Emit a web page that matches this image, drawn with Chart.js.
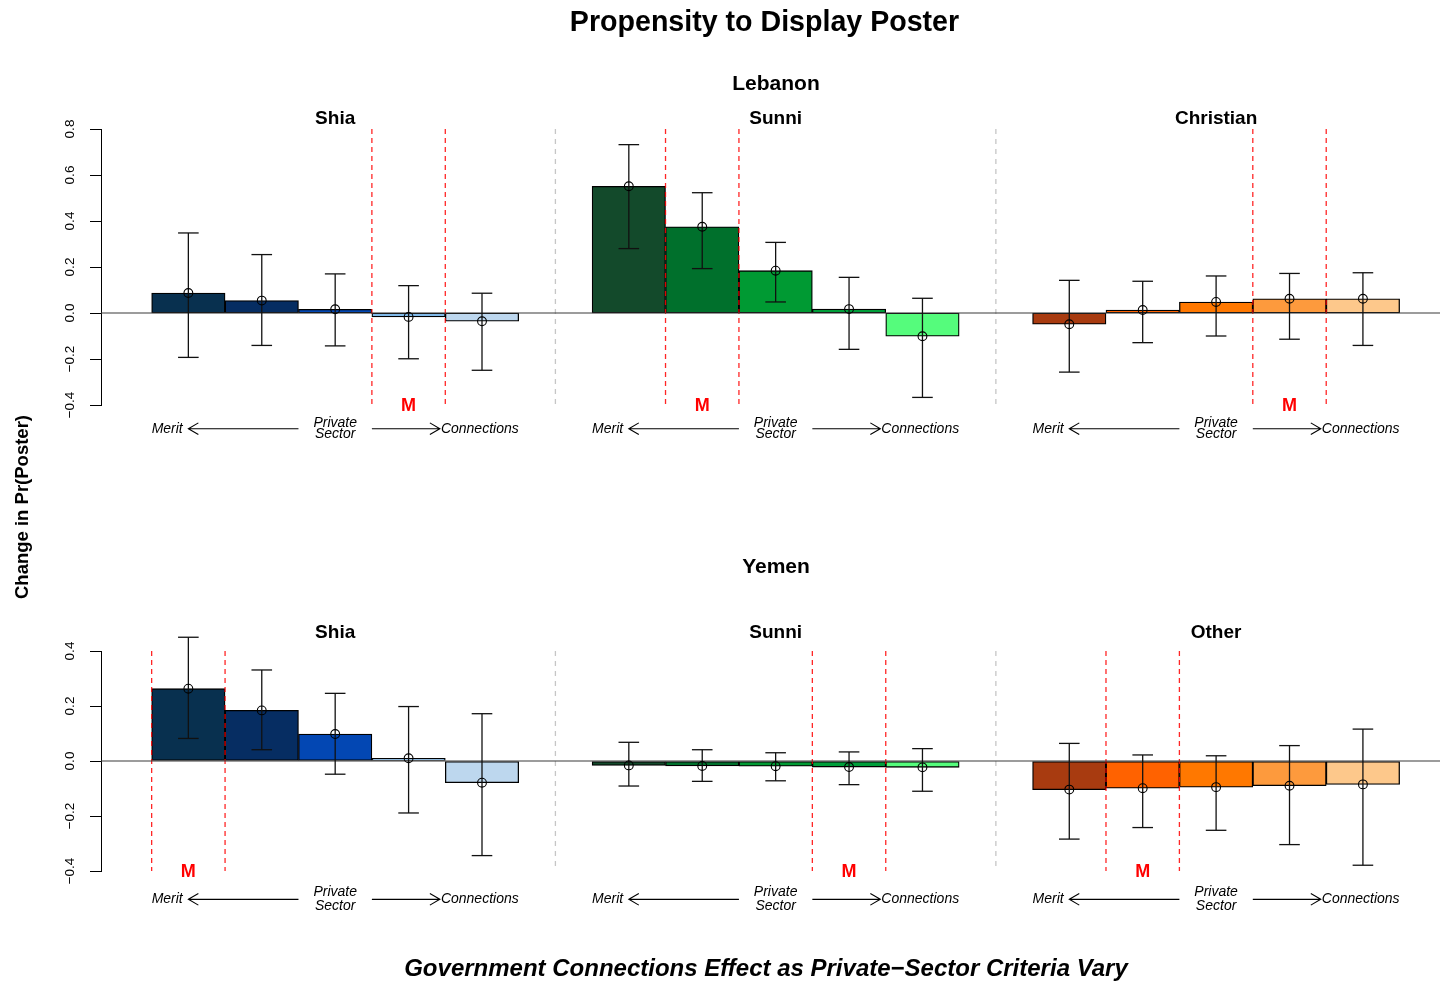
<!DOCTYPE html>
<html>
<head>
<meta charset="utf-8">
<title>Propensity to Display Poster</title>
<script src="https://cdn.jsdelivr.net/npm/chart.js@4.4.0/dist/chart.umd.min.js"></script>
<style>
  html, body { margin: 0; padding: 0; background: #fff; }
  #wrap { position: relative; width: 1440px; height: 985px; }
  #wrap canvas { position: absolute; left: 0; top: 0; }
</style>
</head>
<body>
<div id="wrap">
  <canvas id="lebanon" width="1440" height="985"></canvas>
  <canvas id="yemen" width="1440" height="985"></canvas>
</div>
<script>
// private-sector criteria levels, merit -> connections
const levels = [1, 2, 3, 4, 5];

const lebanonGroups = ["Shia", "Sunni", "Christian"];
const yemenGroups = ["Shia", "Sunni", "Other"];

// which level is marked "M" in each group (index into levels)
const lebanonMarked = [3, 1, 3];
const yemenMarked = [0, 3, 1];

// Lebanon: estimate, lower and upper bound
const lebShiaEst = [0.087, 0.054, 0.016, -0.017, -0.036];
const lebShiaLo = [-0.193, -0.141, -0.143, -0.199, -0.249];
const lebShiaHi = [0.348, 0.254, 0.170, 0.119, 0.086];

const lebSunniEst = [0.551, 0.375, 0.184, 0.017, -0.101];
const lebSunniLo = [0.280, 0.193, 0.048, -0.158, -0.367];
const lebSunniHi = [0.732, 0.523, 0.307, 0.155, 0.064];

const lebChristianEst = [-0.049, 0.013, 0.048, 0.062, 0.062];
const lebChristianLo = [-0.257, -0.129, -0.100, -0.114, -0.141];
const lebChristianHi = [0.142, 0.138, 0.161, 0.172, 0.175];

// Yemen
const yemShiaEst = [0.263, 0.184, 0.098, 0.010, -0.079];
const yemShiaLo = [0.082, 0.041, -0.048, -0.189, -0.344];
const yemShiaHi = [0.450, 0.331, 0.246, 0.198, 0.172];

const yemSunniEst = [-0.016, -0.018, -0.019, -0.022, -0.023];
const yemSunniLo = [-0.091, -0.074, -0.072, -0.086, -0.110];
const yemSunniHi = [0.068, 0.041, 0.030, 0.033, 0.045];

const yemOtherEst = [-0.104, -0.099, -0.095, -0.090, -0.085];
const yemOtherLo = [-0.284, -0.242, -0.252, -0.304, -0.379];
const yemOtherHi = [0.064, 0.022, 0.019, 0.056, 0.116];

// bar colours per group
const shiaColors = ["#08304f", "#062d62", "#0347b3", "#80b9e9", "#bdd7ee"];
const sunniColors = ["#134a2b", "#00702c", "#009a33", "#009e3a", "#55fc7c"];
const orangeColors = ["#a83b10", "#ff6200", "#ff7800", "#fd9a3d", "#fdc88b"];

const FONT = '"Liberation Sans", Arial, Helvetica, sans-serif';
const groupStep = levels.length + 1; // one empty slot between groups

function slot(g, i) {
  return g * groupStep + i;
}

function minus(s) {
  return s.replace("-", "\u2212");
}

// plugin for everything R added on top of barplot()
function panelDecor(p) {
  return {
    id: "decor",
    afterDatasetDraw(chart, args) {
      if (args.meta.type !== "bar") return;
      const { ctx, chartArea: a, scales: { x, y } } = chart;
      const seg = (x0, y0, x1, y1) => {
        ctx.beginPath();
        ctx.moveTo(x0, y0);
        ctx.lineTo(x1, y1);
        ctx.stroke();
      };
      ctx.save();
      // grey separators between groups
      ctx.lineWidth = 1.3;
      ctx.strokeStyle = "#c6c6c6";
      ctx.setLineDash([5, 5]);
      for (let g = 1; g < p.groups.length; g++) {
        const px = x.getPixelForValue(slot(g, 0) - 1);
        seg(px, a.top, px, a.bottom);
      }
      // red dashed lines round the marked level
      ctx.strokeStyle = "rgba(255,0,0,0.85)";
      ctx.setLineDash([5, 4]);
      p.marked.forEach((m, g) => {
        [m - 0.5, m + 0.5].forEach((v) => {
          const px = x.getPixelForValue(slot(g, v));
          seg(px, a.top, px, a.bottom);
        });
      });
      ctx.setLineDash([]);
      // zero line
      ctx.strokeStyle = "#3a3a3a";
      ctx.lineWidth = 1.2;
      const y0 = y.getPixelForValue(0);
      seg(a.left, y0, a.right, y0);
      // error bars
      ctx.strokeStyle = "#111";
      ctx.lineWidth = 1.3;
      p.lo.forEach((arr, g) => {
        arr.forEach((lo, i) => {
          const px = x.getPixelForValue(slot(g, i));
          const yl = y.getPixelForValue(lo);
          const yh = y.getPixelForValue(p.hi[g][i]);
          seg(px, yl, px, yh);
          seg(px - 10.3, yl, px + 10.3, yl);
          seg(px - 10.3, yh, px + 10.3, yh);
        });
      });
      ctx.restore();
    },
    afterDraw(chart) {
      const { ctx, chartArea: a, scales: { x, y } } = chart;
      ctx.save();
      ctx.fillStyle = "#000";
      ctx.textBaseline = "middle";

      // y tick labels, rotated like R's las = 0
      ctx.font = "13.5px " + FONT;
      ctx.textAlign = "center";
      y.ticks.forEach((t) => {
        ctx.save();
        ctx.translate(70, y.getPixelForValue(t.value));
        ctx.rotate(-Math.PI / 2);
        ctx.fillText(minus(t.value.toFixed(1)), 0, 0);
        ctx.restore();
      });

      // panel and group titles
      ctx.font = "bold 21px " + FONT;
      ctx.fillText(p.name, 776, p.nameY + 1.5);
      ctx.font = "bold 19px " + FONT;
      p.groups.forEach((name, g) => {
        ctx.fillText(name, x.getPixelForValue(slot(g, 2)), a.top + p.groupOffset + 1.5);
      });

      p.groups.forEach((name, g) => {
        // M marker
        ctx.fillStyle = "#ff0000";
        ctx.font = "bold 18px " + FONT;
        ctx.textAlign = "center";
        ctx.fillText("M", x.getPixelForValue(slot(g, p.marked[g])), a.bottom + 1.5);

        // Merit <-- Private Sector --> Connections
        ctx.fillStyle = "#000";
        ctx.strokeStyle = "#000";
        ctx.lineWidth = 1.1;
        ctx.font = "italic 14px " + FONT;
        const ya = y.getPixelForValue(-0.503);
        ctx.textAlign = "left";
        ctx.fillText("Merit", x.getPixelForValue(slot(g, -0.5)), ya);
        ctx.textAlign = "right";
        const connRight = x.getPixelForValue(slot(g, 4.5));
        ctx.fillText("Connections", connRight, ya);
        const connLeft = connRight - ctx.measureText("Connections").width - 1;
        ctx.textAlign = "center";
        const mid = x.getPixelForValue(slot(g, 2));
        ctx.fillText("Private", mid, y.getPixelForValue(-0.478));
        ctx.fillText("Sector", mid, y.getPixelForValue(-0.526));

        const arrow = (x0, x1) => {
          const d = x1 > x0 ? -1 : 1;
          ctx.beginPath();
          ctx.moveTo(x0, ya);
          ctx.lineTo(x1, ya);
          ctx.moveTo(x1 + d * 10, ya - 5.8);
          ctx.lineTo(x1, ya);
          ctx.lineTo(x1 + d * 10, ya + 5.8);
          ctx.stroke();
        };
        arrow(x.getPixelForValue(slot(g, 1.5)), x.getPixelForValue(slot(g, 0)));
        arrow(x.getPixelForValue(slot(g, 2.5)), connLeft);
      });

      // figure-level text
      ctx.fillStyle = "#000";
      ctx.textAlign = "center";
      if (p.showTitle) {
        ctx.font = "bold 28.6px " + FONT;
        ctx.fillText("Propensity to Display Poster", 764.5, 23.5);
        ctx.save();
        ctx.translate(23, 507);
        ctx.rotate(-Math.PI / 2);
        ctx.font = "bold 18.5px " + FONT;
        ctx.fillText("Change in Pr(Poster)", 0, 0);
        ctx.restore();
      }
      if (p.showCaption) {
        ctx.font = "italic bold 24px " + FONT;
        ctx.fillText("Government Connections Effect as Private\u2212Sector Criteria Vary", 766, 969);
      }
      ctx.restore();
    }
  };
}

function buildChart(id, p) {
  const bars = [];
  const colors = [];
  const points = [];
  p.est.forEach((arr, g) => {
    arr.forEach((v, i) => {
      bars.push({ x: slot(g, i), y: v });
      points.push({ x: slot(g, i), y: v });
      colors.push(p.colors[g][i]);
    });
  });

  return new Chart(document.getElementById(id), {
    type: "bar",
    data: {
      datasets: [
        {
          type: "bar",
          data: bars,
          backgroundColor: colors,
          borderColor: "#000",
          borderWidth: 1.3,
          borderSkipped: false,
          categoryPercentage: 1,
          barPercentage: 1,
          order: 2
        },
        {
          type: "scatter",
          data: points,
          pointStyle: "circle",
          pointRadius: 4.4,
          pointBorderColor: "#000",
          pointBorderWidth: 1.1,
          pointBackgroundColor: "rgba(0,0,0,0)",
          clip: false,
          order: 1
        }
      ]
    },
    options: {
      responsive: false,
      animation: false,
      events: [],
      layout: {
        autoPadding: false,
        padding: { top: p.top, bottom: 985 - p.bottom, left: 0, right: 0 }
      },
      plugins: {
        legend: { display: false },
        tooltip: { enabled: false }
      },
      scales: {
        x: {
          type: "linear",
          min: -1.19,
          max: 17.05,
          offset: false,
          display: false,
          ticks: { stepSize: 1, includeBounds: false }
        },
        y: {
          min: p.yMin,
          max: p.yMax,
          ticks: { stepSize: 0.2, display: false },
          grid: { drawOnChartArea: false, drawTicks: true, tickLength: 11, color: "#000", lineWidth: 1 },
          border: { color: "#000", width: 1 },
          afterFit(scale) {
            scale.width = 101;
          }
        }
      }
    },
    plugins: [panelDecor(p)]
  });
}

buildChart("lebanon", {
  name: "Lebanon",
  nameY: 83,
  groups: lebanonGroups,
  groupOffset: -12,
  marked: lebanonMarked,
  est: [lebShiaEst, lebSunniEst, lebChristianEst],
  lo: [lebShiaLo, lebSunniLo, lebChristianLo],
  hi: [lebShiaHi, lebSunniHi, lebChristianHi],
  colors: [shiaColors, sunniColors, orangeColors],
  yMin: -0.4,
  yMax: 0.8,
  top: 129,
  bottom: 405,
  showTitle: true
});

buildChart("yemen", {
  name: "Yemen",
  nameY: 566,
  groups: yemenGroups,
  groupOffset: -20,
  marked: yemenMarked,
  est: [yemShiaEst, yemSunniEst, yemOtherEst],
  lo: [yemShiaLo, yemSunniLo, yemOtherLo],
  hi: [yemShiaHi, yemSunniHi, yemOtherHi],
  colors: [shiaColors, sunniColors, orangeColors],
  yMin: -0.4,
  yMax: 0.4,
  top: 651,
  bottom: 871,
  showCaption: true
});
</script>
</body>
</html>
